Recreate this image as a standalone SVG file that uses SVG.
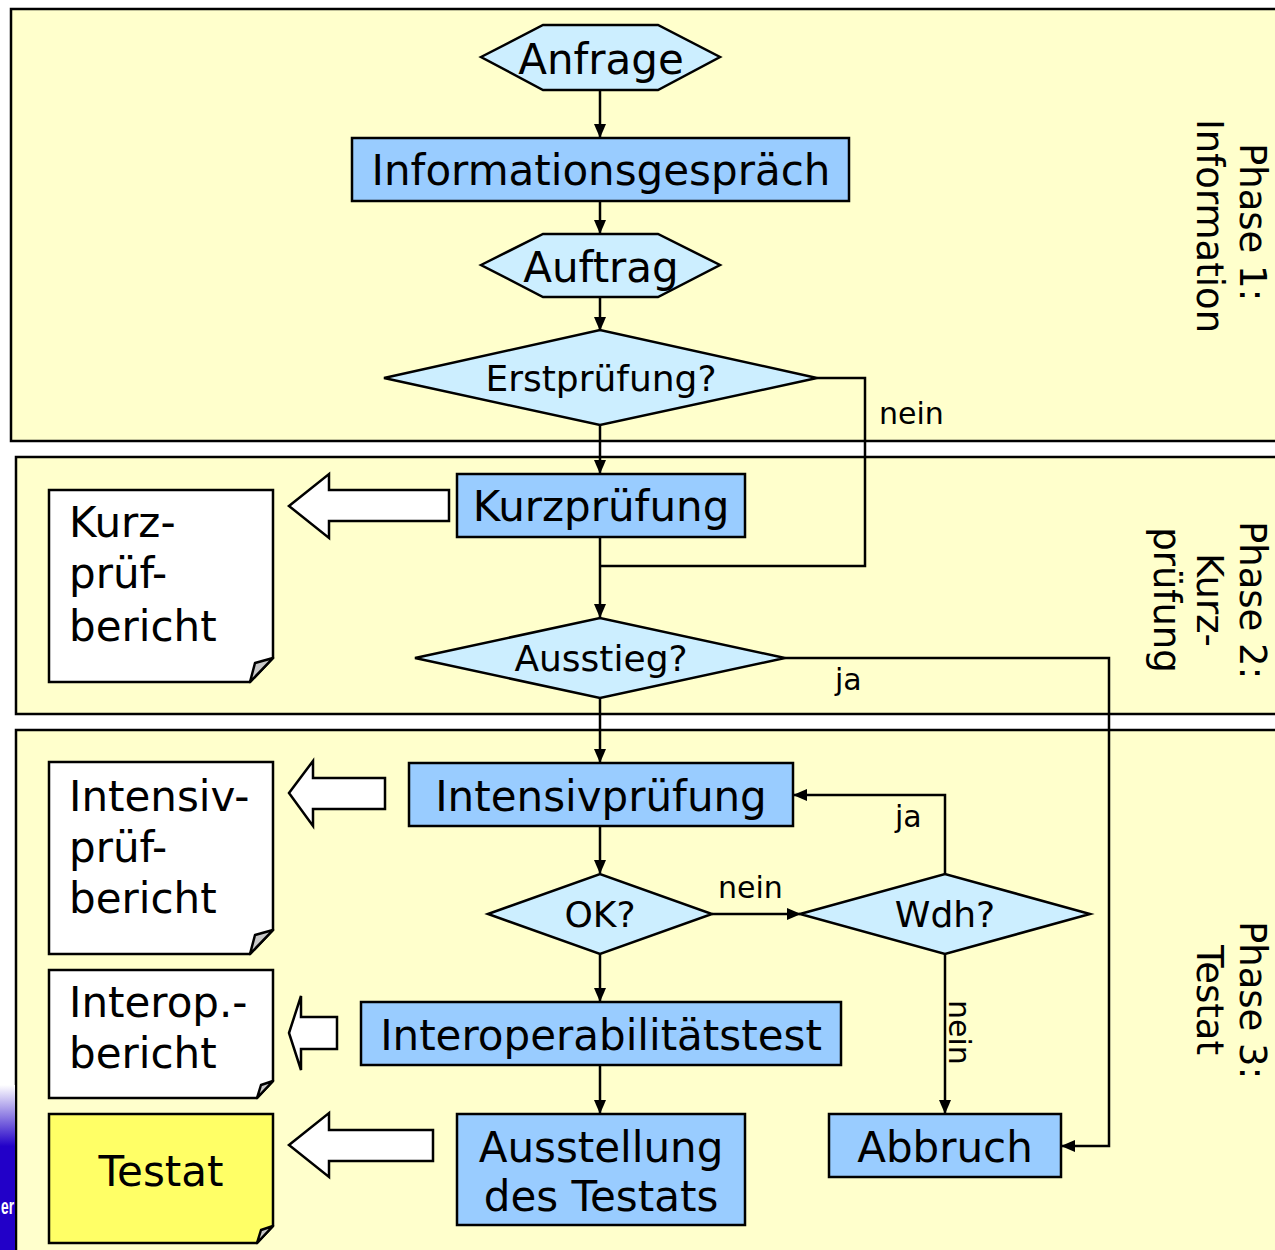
<svg xmlns="http://www.w3.org/2000/svg" width="1275" height="1250" viewBox="0 0 1275 1250">
<defs>
<marker id="ah" markerWidth="14" markerHeight="12" refX="13" refY="6" orient="auto" markerUnits="userSpaceOnUse">
<path d="M0,0 L14,6 L0,12 Z" fill="#000"/>
</marker>
<linearGradient id="bar" x1="0" y1="0" x2="0" y2="1">
<stop offset="0" stop-color="#ffffff"/>
<stop offset="0.36" stop-color="#2200c8"/>
<stop offset="1" stop-color="#2200c8"/>
</linearGradient>
<style>
.phase{fill:#ffffcc;stroke:#000;stroke-width:2.5}
.term{fill:#cceeff;stroke:#000;stroke-width:2.5}
.proc{fill:#99ccff;stroke:#000;stroke-width:2.5}
.doc{fill:#ffffff;stroke:#000;stroke-width:2.5}
.fold{fill:#c8c8c8;stroke:#000;stroke-width:2.5;stroke-linejoin:round}
.barrow{fill:#ffffff;stroke:#000;stroke-width:2.5}
.t{font-family:"DejaVu Sans",Verdana,sans-serif;fill:#000}
.big{font-size:42px}
.mid{font-size:36px}
.lbl{font-size:30px}
.ph{font-size:37px}
.c{text-anchor:middle}
.conn{fill:none;stroke:#000;stroke-width:2.5}
</style>
</defs>
<rect width="1275" height="1250" fill="#ffffff"/>

<g id="phase1"><rect class="phase" x="11" y="9" width="1290" height="432"/>
<text class="t ph c" transform="translate(1240,222) rotate(90)">Phase 1:</text>
<text class="t ph c" transform="translate(1197,226) rotate(90)">Information</text></g>
<g id="phase2"><rect class="phase" x="16" y="457" width="1290" height="257"/>
<text class="t ph c" transform="translate(1240,600) rotate(90)">Phase 2:</text>
<text class="t ph c" transform="translate(1197,600) rotate(90)">Kurz-</text>
<text class="t ph c" transform="translate(1154,600) rotate(90)">prüfung</text></g>
<g id="phase3"><rect class="phase" x="16" y="730" width="1290" height="540"/>
<text class="t ph c" transform="translate(1240,1000) rotate(90)">Phase 3:</text>
<text class="t ph c" transform="translate(1197,1000) rotate(90)">Testat</text></g>

<g id="sidebar"><rect x="0" y="1085" width="15" height="170" fill="url(#bar)"/>
<text x="1" y="1214" font-family="'Liberation Sans',Arial,sans-serif" font-weight="bold" font-size="22" fill="#ffffff" textLength="13" lengthAdjust="spacingAndGlyphs">er</text></g>

<g id="connectors">
<line class="conn" x1="600" y1="90" x2="600" y2="137" marker-end="url(#ah)"/>
<line class="conn" x1="600" y1="201" x2="600" y2="233" marker-end="url(#ah)"/>
<line class="conn" x1="600" y1="297" x2="600" y2="330" marker-end="url(#ah)"/>
<line class="conn" x1="600" y1="425" x2="600" y2="473" marker-end="url(#ah)"/>
<polyline class="conn" points="817,378 865,378 865,566 601,566"/>
<line class="conn" x1="600" y1="537" x2="600" y2="617" marker-end="url(#ah)"/>
<polyline class="conn" points="785,658 1109,658 1109,1146 1062,1146" marker-end="url(#ah)"/>
<line class="conn" x1="600" y1="698" x2="600" y2="762" marker-end="url(#ah)"/>
<line class="conn" x1="600" y1="826" x2="600" y2="873" marker-end="url(#ah)"/>
<line class="conn" x1="712" y1="914" x2="800" y2="914" marker-end="url(#ah)"/>
<polyline class="conn" points="945,874 945,795 794,795" marker-end="url(#ah)"/>
<line class="conn" x1="945" y1="954" x2="945" y2="1113" marker-end="url(#ah)"/>
<line class="conn" x1="600" y1="954" x2="600" y2="1001" marker-end="url(#ah)"/>
<line class="conn" x1="600" y1="1065" x2="600" y2="1113" marker-end="url(#ah)"/>
<text class="t lbl" x="879" y="424">nein</text>
<text class="t lbl" x="835" y="690">ja</text>
<text class="t lbl" x="718" y="898">nein</text>
<text class="t lbl" x="895" y="827">ja</text>
<text class="t lbl" transform="translate(949,1000) rotate(90)">nein</text>
<polygon class="barrow" points="289,506 329,474 329,490 449,490 449,521 329,521 329,538"/>
<polygon class="barrow" points="289,793 313,761 313,778 385,778 385,809 313,809 313,826"/>
<polygon class="barrow" points="289,1033 301,996 301,1017 337,1017 337,1049 301,1049 301,1070"/>
<polygon class="barrow" points="289,1145 329,1113 329,1130 433,1130 433,1161 329,1161 329,1177"/>
</g>

<g id="anfrage"><polygon class="term" points="481,57 543,25 658,25 720,57 658,90 543,90"/>
<text class="t big c" x="601" y="74">Anfrage</text></g>
<g id="informationsgespraech"><rect class="proc" x="352" y="138" width="497" height="63"/>
<text class="t big c" x="601" y="185">Informationsgespräch</text></g>
<g id="auftrag"><polygon class="term" points="481,265 543,234 658,234 720,265 658,297 543,297"/>
<text class="t big c" x="601" y="282">Auftrag</text></g>
<g id="erstpruefung"><polygon class="term" points="384,378 600,330 817,378 600,425"/>
<text class="t mid c" x="601" y="391">Erstprüfung?</text></g>
<g id="kurzpruefung"><rect class="proc" x="457" y="474" width="288" height="63"/>
<text class="t big c" x="601" y="521">Kurzprüfung</text></g>
<g id="ausstieg"><polygon class="term" points="415,658 600,618 785,658 600,698"/>
<text class="t mid c" x="601" y="671">Ausstieg?</text></g>
<g id="intensivpruefung"><rect class="proc" x="409" y="763" width="384" height="63"/>
<text class="t big c" x="601" y="811">Intensivprüfung</text></g>
<g id="ok"><polygon class="term" points="488,914 600,874 712,914 600,954"/>
<text class="t mid c" x="600" y="927">OK?</text></g>
<g id="wdh"><polygon class="term" points="800,914 945,874 1090,914 945,954"/>
<text class="t mid c" x="945" y="927">Wdh?</text></g>
<g id="interop"><rect class="proc" x="361" y="1002" width="480" height="63"/>
<text class="t big c" x="601" y="1050">Interoperabilitätstest</text></g>
<g id="ausstellung"><rect class="proc" x="457" y="1114" width="288" height="111"/>
<text class="t big c" x="601" y="1162">Ausstellung</text>
<text class="t big c" x="601" y="1211">des Testats</text></g>
<g id="abbruch"><rect class="proc" x="829" y="1114" width="232" height="63"/>
<text class="t big c" x="945" y="1162">Abbruch</text></g>

<g id="doc-kurz"><path class="doc" d="M49,490 H273 V658 L250,682 H49 Z"/>
<polygon class="fold" points="273,658 255,663 250,682"/>
<text class="t big" x="69" y="537">Kurz-</text>
<text class="t big" x="69" y="588">prüf-</text>
<text class="t big" x="69" y="641">bericht</text></g>
<g id="doc-intensiv"><path class="doc" d="M49,762 H273 V930 L250,954 H49 Z"/>
<polygon class="fold" points="273,930 255,935 250,954"/>
<text class="t big" x="69" y="811">Intensiv-</text>
<text class="t big" x="69" y="862">prüf-</text>
<text class="t big" x="69" y="913">bericht</text></g>
<g id="doc-interop"><path class="doc" d="M49,970 H273 V1081 L257,1098 H49 Z"/>
<polygon class="fold" points="273,1081 261,1085 257,1098"/>
<text class="t big" x="69" y="1017">Interop.-</text>
<text class="t big" x="69" y="1068">bericht</text></g>
<g id="doc-testat"><path d="M49,1114 H273 V1226 L257,1243 H49 Z" fill="#ffff66" stroke="#000" stroke-width="2.5"/>
<polygon class="fold" points="273,1226 261,1230 257,1243"/>
<text class="t big c" x="161" y="1186">Testat</text></g>
</svg>
